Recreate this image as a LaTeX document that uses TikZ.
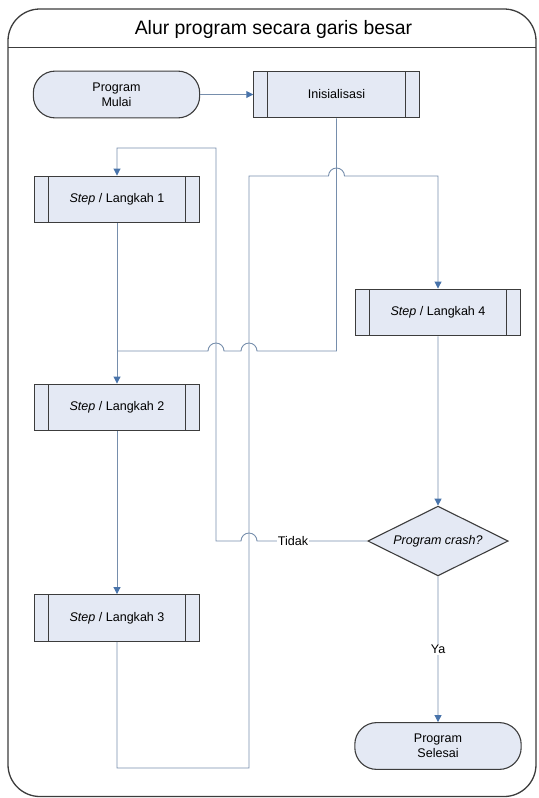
\documentclass[tikz,border=0pt]{standalone}
\usepackage{fontspec}
\setmainfont{Liberation Sans}
\usetikzlibrary{shapes.geometric,arrows.meta}
\definecolor{boxfill}{RGB}{228,233,244}
\definecolor{boxline}{RGB}{60,60,60}
\definecolor{flowline}{RGB}{118,142,172}
\definecolor{flowtip}{RGB}{72,115,170}

\begin{document}
\begin{tikzpicture}[scale=0.3528]
\tikzstyle{every node}+=[inner sep=0pt, font=\fontsize{12.6}{15}\selectfont]
\tikzstyle{process}=[draw=boxline, line width=1.1pt, fill=boxfill, minimum width=166pt, minimum height=47pt,
  path picture={\draw [boxline, line width=1.1pt]
    ([xshift=14pt]path picture bounding box.north west) -- ([xshift=14pt]path picture bounding box.south west)
    ([xshift=-14pt]path picture bounding box.north east) -- ([xshift=-14pt]path picture bounding box.south east);}]
\tikzstyle{terminal}=[draw=boxline, line width=1.1pt, fill=boxfill, rounded corners=22pt, minimum width=167pt, minimum height=47pt, align=center]
\tikzstyle{decision}=[diamond, aspect=2, draw=boxline, line width=1.1pt, fill=boxfill, minimum width=141pt, minimum height=70pt, font=\fontsize{12.6}{15}\selectfont\itshape]
\tikzstyle{flow}=[draw=flowline, line width=0.9pt]
\tikzstyle{flowarrow}=[flow, -{Triangle[length=7pt,width=7pt,color=flowtip]}]
\useasboundingbox (0,0) rectangle (53.9,-79.8);
\draw [boxline, line width=1.3pt, rounded corners=32pt] (0.8,-0.9) rectangle (53.6,-79.65);
\draw [boxline, line width=1.3pt] (0.8,-4.75) -- (53.6,-4.75);
\node (judul) at (27.35,-2.9) {\fontsize{19.5}{22}\selectfont Alur program secara garis besar};
\node [terminal] (mulai) at (11.65,-9.45) {Program\\Mulai};
\node [process] (init) at (33.65,-9.45) {Inisialisasi};
\node [process] (langkah1) at (11.7,-19.95) {\textit{Step} / Langkah 1};
\node [process] (langkah2) at (11.7,-40.75) {\textit{Step} / Langkah 2};
\node [process] (langkah3) at (11.7,-61.8) {\textit{Step} / Langkah 3};
\node [process] (langkah4) at (43.8,-31.25) {\textit{Step} / Langkah 4};
\node [decision] (crash) at (43.8,-54.1) {Program crash?};
\node [terminal] (selesai) at (43.8,-74.6) {Program\\Selesai};
\coordinate (gabung) at (11.7,-35.1);
\draw [flowarrow] (mulai) -- (init);
\draw [flow] (init.south) -- (33.65,-35.1) -- (25.7,-35.1) arc (0:180:0.8) -- (22.4,-35.1) arc (0:180:0.8) -- (gabung);
\draw [flowarrow] (langkah1) -- (langkah2);
\draw [flowarrow] (langkah2) -- (langkah3);
\draw [flowarrow] (langkah3.south) -- (11.7,-76.8) -- (24.9,-76.8) -- (24.9,-17.6) -- (32.85,-17.6) arc (180:0:0.8) -- (43.8,-17.6) -- (langkah4.north);
\draw [flowarrow] (langkah4) -- (crash);
\draw [flowarrow] (crash.west) -- (25.7,-54.1) arc (0:180:0.8) -- (21.6,-54.1) -- (21.6,-14.8) -- (11.7,-14.8) -- (langkah1.north);
\node [fill=white, inner sep=1pt] (tidak) at (29.3,-54.1) {Tidak};
\draw [flowarrow] (crash) -- node [fill=white, inner sep=1pt] (ya) {Ya} (selesai);
\end{tikzpicture}
\end{document}
